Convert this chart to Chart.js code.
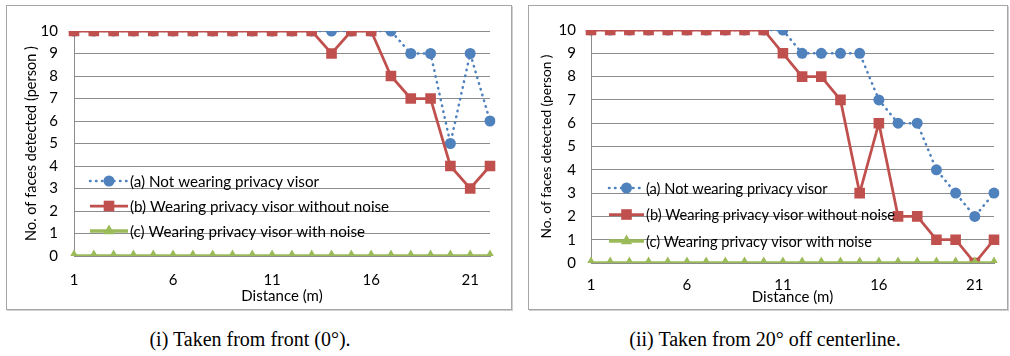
<html>
  <head>
    <script src="https://cdn.jsdelivr.net/npm/chart.js"></script>
    <meta charset="UTF-8" />
    <style>
      body { margin: 0; background: #fff; width: 1010px; height: 356px; position: relative; overflow: hidden; }
      .box { position: absolute; top: 5px; height: 303px; border: 1px solid #a6a6a6; box-shadow: 1px 1px 0 #cfcfcf; background: #fff; }
      .cap { position: absolute; top: 328px; font: 20px "Liberation Serif", serif; color: #000; white-space: nowrap; transform: translateX(-50%); }
    </style>
  </head>
  <body>
    <div class="box" style="left: 6px; width: 504px">
      <canvas id="chartFront"></canvas>
    </div>
    <div class="box" style="left: 528px; width: 478px">
      <canvas id="chartSide"></canvas>
    </div>
    <div class="cap" style="left: 250px">(i) Taken from front (0°).</div>
    <div class="cap" style="left: 765px">(ii) Taken from 20° off centerline.</div>
    <script>
      const distances = ["1","2","3","4","5","6","7","8","9","10","11","12","13","14","15","16","17","18","19","20","21","22"];
      const seriesNames = [
        "(a) Not wearing privacy visor",
        "(b) Wearing privacy visor without noise",
        "(c) Wearing privacy visor with noise",
      ];

      // (i) taken from front
      const frontNoVisor = [10,10,10,10,10,10,10,10,10,10,10,10,10,10,10,10,10,9,9,5,9,6];
      const frontVisorNoNoise = [10,10,10,10,10,10,10,10,10,10,10,10,10,9,10,10,8,7,7,4,3,4];
      const frontVisorNoise = [0,0,0,0,0,0,0,0,0,0,0,0,0,0,0,0,0,0,0,0,0,0];

      // (ii) taken from 20 deg off centerline
      const sideNoVisor = [10,10,10,10,10,10,10,10,10,10,10,9,9,9,9,7,6,6,4,3,2,3];
      const sideVisorNoNoise = [10,10,10,10,10,10,10,10,10,10,9,8,8,7,3,6,2,2,1,1,0,1];
      const sideVisorNoise = [0,0,0,0,0,0,0,0,0,0,0,0,0,0,0,0,0,0,0,0,0,0];

      const BLUE = "#4F81BD", RED = "#C0504D", GREEN = "#9BBB59", GRID = "#8C8C8C";
      const FONT = "Lato";

      function makeDatasets(a, b, c) {
        return [
          {
            label: seriesNames[0], data: a, order: 3,
            borderColor: BLUE, backgroundColor: BLUE, borderWidth: 2.5,
            borderDash: [0.5, 5.5], borderCapStyle: "round",
            pointStyle: "circle", pointRadius: 5.5, pointBackgroundColor: BLUE, pointBorderColor: BLUE, pointBorderWidth: 0,
          },
          {
            label: seriesNames[1], data: b, order: 2,
            borderColor: RED, backgroundColor: RED, borderWidth: 2.75,
            pointStyle: "rect", pointRadius: 7.5, pointBackgroundColor: RED, pointBorderColor: RED, pointBorderWidth: 0,
          },
          {
            label: seriesNames[2], data: c, order: 1,
            borderColor: GREEN, backgroundColor: GREEN, borderWidth: 3.5,
            pointStyle: "triangle", pointRadius: 6.5, pointBackgroundColor: GREEN, pointBorderColor: GREEN, pointBorderWidth: 0,
          },
        ];
      }

      function drawMarker(ctx, style, x, y, r) {
        ctx.beginPath();
        if (style === "circle") {
          ctx.arc(x, y, r, 0, Math.PI * 2);
        } else if (style === "rect") {
          const s = r * Math.SQRT1_2;
          ctx.rect(x - s, y - s, 2 * s, 2 * s);
        } else {
          ctx.moveTo(x, y - r);
          ctx.lineTo(x + r * Math.sin(2 * Math.PI / 3), y + r / 2);
          ctx.lineTo(x - r * Math.sin(2 * Math.PI / 3), y + r / 2);
          ctx.closePath();
        }
        ctx.fill();
      }

      // legend sits inside the plot area, like the original
      const insideLegend = {
        id: "insideLegend",
        afterDraw(chart, args, opts) {
          const ctx = chart.ctx;
          const area = chart.chartArea;
          ctx.save();
          chart.data.datasets.forEach((ds, i) => {
            const y = area.top + opts.top + i * opts.gap;
            const x0 = area.left + opts.left;
            const x1 = x0 + opts.len;
            ctx.strokeStyle = ds.borderColor;
            ctx.lineWidth = ds.borderWidth;
            ctx.lineCap = ds.borderCapStyle || "butt";
            ctx.setLineDash(ds.borderDash || []);
            ctx.beginPath();
            ctx.moveTo(x0, y);
            ctx.lineTo(x1, y);
            ctx.stroke();
            ctx.setLineDash([]);
            ctx.fillStyle = ds.pointBackgroundColor;
            drawMarker(ctx, ds.pointStyle, (x0 + x1) / 2, y, ds.pointRadius);
            ctx.fillStyle = "#000";
            ctx.font = opts.fontSize + "px " + FONT;
            ctx.textBaseline = "middle";
            ctx.textAlign = "left";
            ctx.fillText(ds.label, x1 + 2, y + 1);
          });
          ctx.restore();
        },
      };

      function makeChart(id, a, b, c, lay) {
        return new Chart(document.getElementById(id), {
          type: "line",
          data: { labels: distances, datasets: makeDatasets(a, b, c) },
          options: {
            responsive: true,
            maintainAspectRatio: false,
            animation: false,
            layout: { padding: { top: lay.top, right: lay.right, left: 0, bottom: 0 } },
            plugins: {
              legend: { display: false },
              tooltip: { enabled: false },
              insideLegend: lay.legend,
            },
            scales: {
              x: {
                type: "category",
                offset: false,
                grid: { display: false, drawTicks: false },
                border: { color: GRID },
                ticks: {
                  autoSkip: false, maxRotation: 0, padding: lay.xTickPad,
                  color: "#000", font: { family: FONT, size: 15 },
                  callback: (v, i) => (i % 5 === 0 ? distances[i] : ""),
                },
                title: {
                  display: true, text: "Distance (m)", color: "#000",
                  font: { family: FONT, size: 15 }, padding: { top: 0, bottom: lay.xTitlePad },
                },
                afterFit: s => { s.height = lay.xHeight; },
              },
              y: {
                min: 0, max: 10,
                grid: { color: GRID, drawTicks: false },
                border: { color: GRID },
                ticks: {
                  stepSize: 1, padding: lay.yTickPad,
                  color: "#000", font: { family: FONT, size: 15 },
                },
                title: {
                  display: true, text: "No. of faces detected (person )", color: "#000",
                  font: { family: FONT, size: lay.yTitleSize }, padding: { top: lay.yTitlePad, bottom: 0 },
                },
                afterFit: s => { s.width = lay.yWidth; },
              },
            },
          },
          plugins: [insideLegend],
        });
      }

      makeChart("chartFront", frontNoVisor, frontVisorNoNoise, frontVisorNoise, {
        top: 17, right: 21, yWidth: 67, xHeight: 53,
        yTickPad: 16, xTickPad: 15, xTitlePad: 4, yTitlePad: 16, yTitleSize: 14.5,
        legend: { left: 16, top: 150, gap: 25, len: 38, fontSize: 15.2 },
      });
      makeChart("chartSide", sideNoVisor, sideVisorNoNoise, sideVisorNoise, {
        top: 14, right: 5, yWidth: 62, xHeight: 46,
        yTickPad: 15, xTickPad: 13, xTitlePad: 3, yTitlePad: 9.5, yTitleSize: 13.7,
        legend: { left: 18, top: 158, gap: 26.5, len: 35, fontSize: 14.6 },
      });
    </script>
  </body>
</html>
